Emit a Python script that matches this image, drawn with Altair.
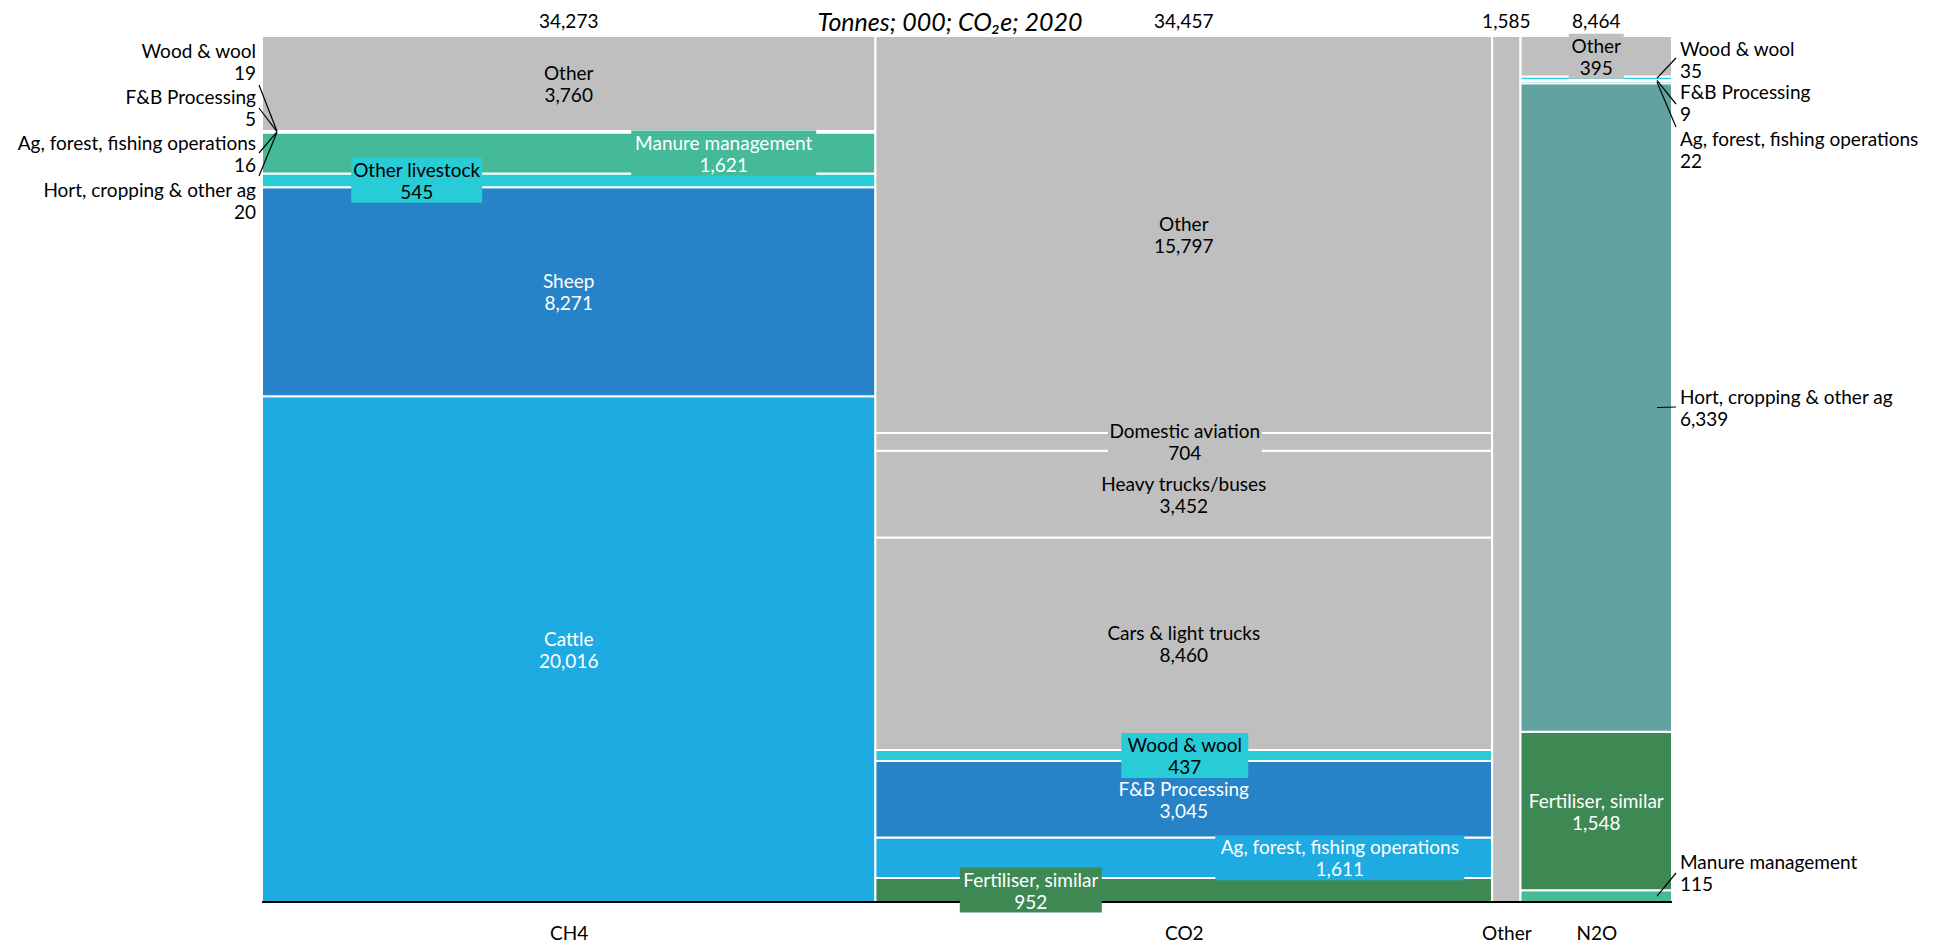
import altair as alt
import pandas as pd

# ---------------- data ----------------
COLUMNS = ["CH4", "CO2", "Other", "N2O"]
COLUMN_TOTALS = [34273, 34457, 1585, 8464]

CH4_SECTORS = ["Cattle", "Sheep", "Other livestock", "Manure management",
               "Hort, cropping & other ag", "Ag, forest, fishing operations",
               "F&B Processing", "Wood & wool", "Other"]
CH4_VALUES = [20016, 8271, 545, 1621, 20, 16, 5, 19, 3760]

CO2_SECTORS = ["Fertiliser, similar", "Ag, forest, fishing operations", "F&B Processing",
               "Wood & wool", "Cars & light trucks", "Heavy trucks/buses",
               "Domestic aviation", "Other"]
CO2_VALUES = [952, 1611, 3045, 437, 8460, 3452, 704, 15797]

OTHER_SECTORS = ["Other"]
OTHER_VALUES = [1585]

N2O_SECTORS = ["Manure management", "Fertiliser, similar", "Hort, cropping & other ag",
               "Ag, forest, fishing operations", "F&B Processing", "Wood & wool", "Other"]
N2O_VALUES = [115, 1548, 6339, 22, 9, 35, 395]

TITLE = "Tonnes; 000; CO\u2082e; 2020"

SEGMENTS = {
    "CH4": (CH4_SECTORS, CH4_VALUES),
    "CO2": (CO2_SECTORS, CO2_VALUES),
    "Other": (OTHER_SECTORS, OTHER_VALUES),
    "N2O": (N2O_SECTORS, N2O_VALUES),
}

# ---------------- style / layout ----------------
GREY = "#BFBFBF"
COLORS = {
    "Cattle": "#1EABE2",
    "Sheep": "#2783C7",
    "Other livestock": "#28CCD7",
    "Manure management": "#44BA98",
    "Fertiliser, similar": "#3E8853",
    "Hort, cropping & other ag": "#62A39F",
    "Ag, forest, fishing operations": "#1EABE2",
    "F&B Processing": "#2783C7",
    "Wood & wool": "#28CCD7",
}
WHITE_TEXT = {"Cattle", "Sheep", "Manure management", "F&B Processing",
              "Ag, forest, fishing operations", "Fertiliser, similar"}
FONT = "Lato"
FS = 19
LH = 22
DY2 = -9.5  # vertical shift that centres a two-line label on its point

W, H = 1410, 866
PAD = {"left": 254, "top": 28, "right": 250, "bottom": 41}

# inside labels: column, sector, x shift (px from column centre), box width (px, 0 = no box)
INSIDE_LABELS = [
    ("CH4", "Cattle", 0, 0), ("CH4", "Sheep", 0, 0),
    ("CH4", "Other livestock", -152, 131), ("CH4", "Manure management", 155, 185),
    ("CH4", "Other", 0, 0),
    ("CO2", "Fertiliser, similar", -153, 142), ("CO2", "Ag, forest, fishing operations", 156, 249),
    ("CO2", "F&B Processing", 0, 0), ("CO2", "Wood & wool", 1, 127),
    ("CO2", "Cars & light trucks", 0, 0), ("CO2", "Heavy trucks/buses", 0, 0),
    ("CO2", "Domestic aviation", 1, 154), ("CO2", "Other", 0, 0),
    ("N2O", "Fertiliser, similar", 0, 0), ("N2O", "Other", 0, 55),
]
BOX_H = 45

# outside labels: column, sector, side, label centre (px from top), leader attach (px from top)
OUTSIDE_LABELS = [
    ("CH4", "Wood & wool", "left", 25, 49),
    ("CH4", "F&B Processing", "left", 71, 72),
    ("CH4", "Ag, forest, fishing operations", "left", 117, 117),
    ("CH4", "Hort, cropping & other ag", "left", 164, 140),
    ("N2O", "Wood & wool", "right", 23, 22),
    ("N2O", "F&B Processing", "right", 66.5, 68),
    ("N2O", "Ag, forest, fishing operations", "right", 113.5, 91),
    ("N2O", "Hort, cropping & other ag", "right", 371, 371),
    ("N2O", "Manure management", "right", 836.5, 837),
]
ANCHOR_INSET = 15
TEXT_GAP = {"left": -6, "right": 8}
ATTACH_GAP = {"left": -3, "right": 4}

# ---------------- build tables ----------------
TOTAL = sum(COLUMN_TOTALS)
UX = TOTAL / W  # data units per pixel

starts, ends = [], []
acc = 0
for t in COLUMN_TOTALS:
    starts.append(acc)
    acc += t
    ends.append(acc)
col_start = dict(zip(COLUMNS, starts))
col_end = dict(zip(COLUMNS, ends))
col_mid = {c: (col_start[c] + col_end[c]) / 2 for c in COLUMNS}

rows = []
seg = {}
for c in COLUMNS:
    names, vals = SEGMENTS[c]
    s = sum(vals)
    cum = 0
    for n, v in zip(names, vals):
        y0 = cum / s
        cum += v
        y1 = cum / s
        r = dict(column=c, sector=n, value=v, x0=col_start[c], x1=col_end[c],
                 y0=y0, y1=y1, ym=(y0 + y1) / 2, fill=COLORS.get(n, GREY))
        rows.append(r)
        seg[(c, n)] = r
rects = pd.DataFrame(rows)

lab_rows, box_rows = [], []
for c, n, shift, bw in INSIDE_LABELS:
    r = seg[(c, n)]
    xc = col_mid[c] + shift * UX
    lab_rows.append(dict(x=xc, y=r["ym"], text=f"{n}\n{r['value']:,}",
                         tc="white" if n in WHITE_TEXT else "black"))
    if bw:
        box_rows.append(dict(x0=xc - bw / 2 * UX, x1=xc + bw / 2 * UX,
                             y0=r["ym"] - BOX_H / 2 / H, y1=r["ym"] + BOX_H / 2 / H,
                             fill=r["fill"]))
inside = pd.DataFrame(lab_rows)
boxes = pd.DataFrame(box_rows)

out_rows, line_rows = [], []
for c, n, side, ly, ay in OUTSIDE_LABELS:
    r = seg[(c, n)]
    edge = col_start[c] if side == "left" else col_end[c]
    out_rows.append(dict(x=edge + TEXT_GAP[side] * UX, y=1 - ly / H,
                         text=f"{n}\n{r['value']:,}", side=side))
    inset = ANCHOR_INSET if side == "left" else -ANCHOR_INSET
    line_rows.append(dict(x=edge + inset * UX, y=r["ym"],
                          x2=edge + ATTACH_GAP[side] * UX, y2=1 - ay / H))
outside = pd.DataFrame(out_rows)
lines = pd.DataFrame(line_rows)

tops = pd.DataFrame(dict(x=[col_mid[c] for c in COLUMNS], y=[1.0] * 4,
                         text=[f"{t:,}" for t in COLUMN_TOTALS]))
base = pd.DataFrame(dict(x=[0], x2=[TOTAL], y=[0.0]))
title_df = pd.DataFrame(dict(x=[TOTAL / 2], y=[1.0], text=[TITLE]))

# ---------------- chart ----------------
XS = alt.Scale(domain=[0, TOTAL], nice=False, zero=False)
YS = alt.Scale(domain=[0, 1], nice=False, zero=False)
expr = ""
for c in COLUMNS[:-1]:
    expr += f"datum.value < {col_end[c]} ? '{c}' : "
expr += f"'{COLUMNS[-1]}'"
XAX = alt.Axis(values=[col_mid[c] for c in COLUMNS], labelExpr=expr, domain=False,
               ticks=False, grid=False, title=None, labelFont=FONT, labelFontSize=FS,
               labelColor="black", labelPadding=22, labelOverlap=False,
               labelFlush=False, labelBound=False)

def X(f):
    return alt.X(f"{f}:Q", scale=XS, axis=XAX)

def Y(f):
    return alt.Y(f"{f}:Q", scale=YS, axis=None)

bars = alt.Chart(rects).mark_rect(stroke="white", strokeWidth=2).encode(
    x=X("x0"), x2="x1", y=Y("y0"), y2="y1", color=alt.Color("fill:N", scale=None))

baseline = alt.Chart(base).mark_rule(color="black", strokeWidth=2).encode(
    x=X("x"), x2="x2", y=Y("y"))

box_layer = alt.Chart(boxes).mark_rect().encode(
    x=X("x0"), x2="x1", y=Y("y0"), y2="y1", color=alt.Color("fill:N", scale=None))

inside_text = alt.Chart(inside).mark_text(
    font=FONT, fontSize=FS, lineBreak="\n", lineHeight=LH, baseline="middle", align="center",
    dy=DY2
).encode(x=X("x"), y=Y("y"), text="text:N", color=alt.Color("tc:N", scale=None))

left_text = alt.Chart(outside[outside.side == "left"]).mark_text(
    font=FONT, fontSize=FS, lineBreak="\n", lineHeight=LH, baseline="middle", align="right",
    dy=DY2, color="black").encode(x=X("x"), y=Y("y"), text="text:N")

right_text = alt.Chart(outside[outside.side == "right"]).mark_text(
    font=FONT, fontSize=FS, lineBreak="\n", lineHeight=LH, baseline="middle", align="left",
    dy=DY2, color="black").encode(x=X("x"), y=Y("y"), text="text:N")

leaders = alt.Chart(lines).mark_rule(color="black", strokeWidth=1.2).encode(
    x=X("x"), x2="x2", y=Y("y"), y2="y2")

top_text = alt.Chart(tops).mark_text(
    font=FONT, fontSize=FS, baseline="middle", align="center", dy=-14, color="black"
).encode(x=X("x"), y=Y("y"), text="text:N")

title = alt.Chart(title_df).mark_text(
    font=FONT, fontSize=25, fontStyle="italic", baseline="alphabetic", align="center",
    dy=-5, dx=-17, color="black").encode(x=X("x"), y=Y("y"), text="text:N")

chart = alt.layer(bars, baseline, box_layer, inside_text, left_text, right_text,
                  leaders, top_text, title).properties(
    width=W, height=H, autosize=alt.AutoSizeParams(type="none"), padding=PAD,
    background="white"
).configure_view(stroke=None)

chart.save("out.html", embed_options={"renderer": "svg", "actions": False})
